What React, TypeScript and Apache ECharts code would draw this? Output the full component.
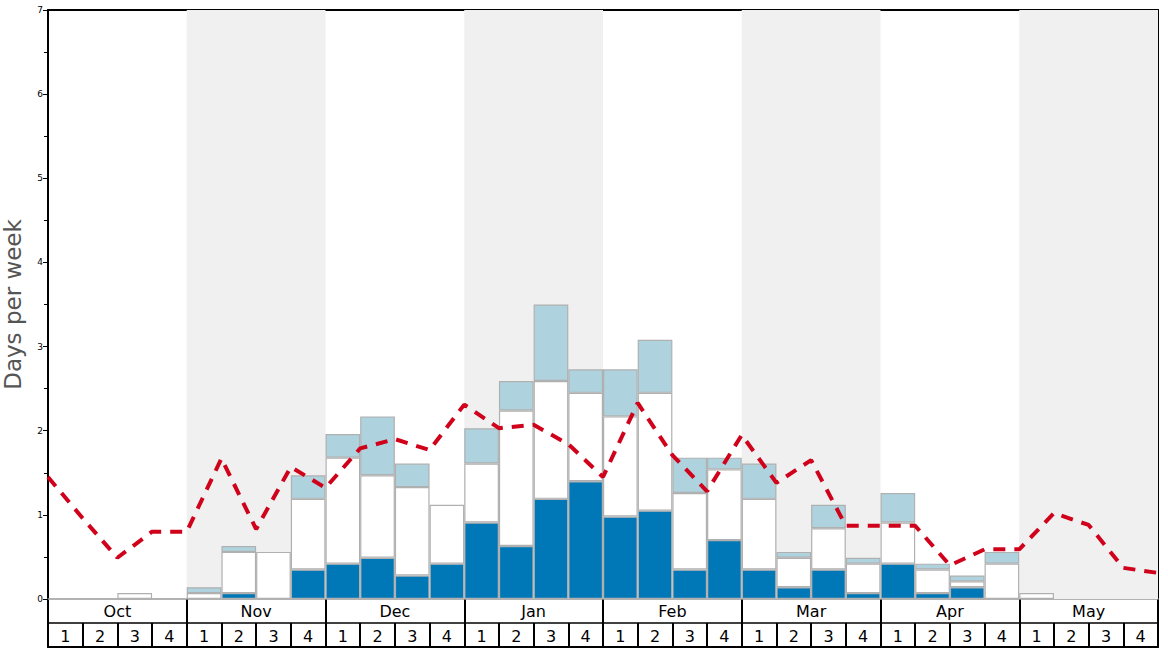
import React, { useEffect, useRef } from "react";
import * as echarts from "echarts";

const months = ["Oct", "Nov", "Dec", "Jan", "Feb", "Mar", "Apr", "May"];
const weekNumbers = ["1", "2", "3", "4"];
const yTicks = [0, 1, 2, 3, 4, 5, 6, 7];

// per-week stacked segments (days per week)
const darkSeg = [null, null, null, null, null, 0.07, null, 0.35, 0.42, 0.49, 0.28, 0.42, 0.91, 0.63, 1.19, 1.4, 0.98, 1.05, 0.35, 0.7, 0.35, 0.14, 0.35, 0.07, 0.42, 0.07, 0.14, null, null, null, null, null];
const whiteSeg = [null, null, 0.07, null, 0.07, 0.49, 0.56, 0.84, 1.26, 0.98, 1.05, 0.7, 0.7, 1.61, 1.4, 1.05, 1.19, 1.4, 0.91, 0.84, 0.84, 0.35, 0.49, 0.35, 0.49, 0.28, 0.07, 0.42, 0.07, null, null, null];
const lightSeg = [null, null, null, null, 0.07, 0.07, null, 0.28, 0.28, 0.7, 0.28, null, 0.42, 0.35, 0.91, 0.28, 0.56, 0.63, 0.42, 0.14, 0.42, 0.07, 0.28, 0.07, 0.35, 0.07, 0.07, 0.14, null, null, null, null];
// dashed line at week boundaries (33 points)
const avgLine = [1.45, 0.96, 0.49, 0.8, 0.8, 1.67, 0.83, 1.57, 1.32, 1.79, 1.9, 1.77, 2.31, 2.03, 2.07, 1.84, 1.45, 2.33, 1.71, 1.28, 1.95, 1.38, 1.65, 0.87, 0.87, 0.87, 0.4, 0.59, 0.59, 1.02, 0.88, 0.37, 0.31];
const shadedMonths = [1, 3, 5, 7];

export default function App() {
  const ref = useRef<HTMLDivElement>(null);
  useEffect(() => {
    document.body.style.margin = "0";
    if (!ref.current) return;
    const chart = echarts.init(ref.current, null, { renderer: "svg" });
    const weekCats = months.flatMap(() => weekNumbers);
    const font = "DejaVu Sans";
    const nWeeks = weekCats.length;
    const blackLine = (w: number) => ({ show: true, lineStyle: { color: "#000", width: w } });
    const frameY = (gridIndex: number, position: string) => ({
      type: "value",
      gridIndex,
      min: 0,
      max: 1,
      position,
      axisLine: blackLine(2),
      axisTick: { show: false },
      axisLabel: { show: false },
      splitLine: { show: false },
    });
    const rowX = (gridIndex: number, data: string[], lineW: number, margin: number) => ({
      type: "category",
      gridIndex,
      data,
      position: "bottom",
      axisLine: blackLine(lineW),
      axisTick: { show: false },
      axisLabel: { inside: true, interval: 0, fontSize: 16, color: "#000", fontFamily: font, margin },
      splitLine: { show: true, interval: 0, lineStyle: { color: "#000", width: 2 } },
    });
    const gridBase = { left: 48, right: 10, containLabel: false, outerBoundsMode: "none" };
    const option: any = {
      animation: false,
      grid: [
        { ...gridBase, top: 10, height: 589 },
        { ...gridBase, top: 599, height: 24 },
        { ...gridBase, top: 623, height: 24 },
      ],
      xAxis: [
        {
          type: "category",
          gridIndex: 0,
          data: weekCats,
          position: "bottom",
          axisLine: { show: true, lineStyle: { color: "#999", width: 1.5 } },
          axisTick: { show: false },
          axisLabel: { show: false },
          splitLine: { show: false },
        },
        { type: "value", gridIndex: 0, min: 0, max: nWeeks, show: false },
        {
          type: "category",
          gridIndex: 0,
          data: months,
          position: "top",
          axisLine: blackLine(2),
          axisTick: { show: false },
          axisLabel: { show: false },
        },
        rowX(1, months, 1.5, 4),
        rowX(2, weekCats, 2, 3),
      ],
      yAxis: [
        {
          type: "value",
          gridIndex: 0,
          min: yTicks[0],
          max: yTicks[yTicks.length - 1],
          interval: 1,
          name: "Days per week",
          nameLocation: "middle",
          nameGap: 24,
          nameTextStyle: { fontSize: 23, lineHeight: 23, color: "#555", fontFamily: font },
          axisLine: blackLine(2),
          axisTick: { show: true, length: 5, lineStyle: { color: "#000" } },
          minorTick: { show: true, splitNumber: 2, length: 4, lineStyle: { color: "#000" } },
          axisLabel: { fontSize: 9, color: "#000", fontFamily: font, margin: 5 },
          splitLine: { show: false },
        },
        {
          type: "value",
          gridIndex: 0,
          min: 0,
          max: 7,
          position: "right",
          axisLine: blackLine(2),
          axisTick: { show: false },
          axisLabel: { show: false },
          splitLine: { show: false },
        },
        frameY(1, "left"),
        frameY(1, "right"),
        frameY(2, "left"),
        frameY(2, "right"),
      ],
      series: [
        {
          type: "line",
          xAxisIndex: 1,
          yAxisIndex: 0,
          data: [],
          z: 0,
          silent: true,
          markArea: {
            silent: true,
            itemStyle: { color: "#f0f0f0" },
            data: shadedMonths.map((m) => [{ xAxis: m * 4 }, { xAxis: m * 4 + 4 }]),
          },
        },
        {
          type: "bar",
          name: "dark",
          stack: "s",
          xAxisIndex: 0,
          yAxisIndex: 0,
          data: darkSeg.map((v) => (v == null ? "-" : v)),
          barCategoryGap: "0%",
          itemStyle: { color: "#0077b6", borderColor: "#b0b0b0", borderWidth: 1.2 },
          z: 2,
        },
        {
          type: "bar",
          name: "white",
          stack: "s",
          xAxisIndex: 0,
          yAxisIndex: 0,
          data: whiteSeg.map((v) => (v == null ? "-" : v)),
          barCategoryGap: "0%",
          itemStyle: { color: "#ffffff", borderColor: "#b0b0b0", borderWidth: 1.2 },
          z: 2,
        },
        {
          type: "bar",
          name: "light",
          stack: "s",
          xAxisIndex: 0,
          yAxisIndex: 0,
          data: lightSeg.map((v) => (v == null ? "-" : v)),
          barCategoryGap: "0%",
          itemStyle: { color: "#aed3de", borderColor: "#b0b0b0", borderWidth: 1.2 },
          z: 2,
        },
        {
          type: "line",
          name: "avg",
          xAxisIndex: 1,
          yAxisIndex: 0,
          data: avgLine.map((v, i) => [i, v]),
          symbol: "none",
          lineStyle: { color: "#d0021b", width: 4, type: [12, 9], cap: "butt" },
          z: 5,
        },
      ],
    };
    chart.setOption(option);
    return () => chart.dispose();
  }, []);
  return <div ref={ref} style={{ width: 1168, height: 648 }} />;
}
